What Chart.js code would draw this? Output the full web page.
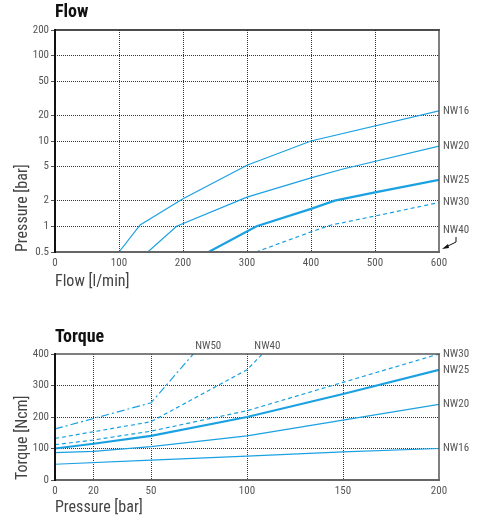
<!DOCTYPE html>
<html>
<head>
<meta charset="utf-8">
<script src="https://cdn.jsdelivr.net/npm/chart.js@4.4.1/dist/chart.umd.min.js"></script>
<style>
  body { margin: 0; background: #fff; width: 482px; height: 523px; position: relative; overflow: hidden; }
  canvas { position: absolute; left: 0; }
  .title { position: absolute; left: 55px; font-family: 'Roboto Condensed', 'Liberation Sans Narrow', Roboto, sans-serif; font-weight: bold; font-size: 18px; line-height: 18px; color: #111; z-index: 2; }
</style>
</head>
<body>
<canvas id="flowChart" width="482" height="300" style="top:0"></canvas>
<canvas id="torqueChart" width="482" height="223" style="top:300px"></canvas>
<div class="title" style="top:2px">Flow</div>
<div class="title" style="top:327px">Torque</div>
<script>
// ---- Flow data (pressure drop vs flow, log scale) ----
const flowTicksY = [0.5, 1, 2, 5, 10, 20, 50, 100, 200];
const flowX16 = [100, 133, 200, 300, 400, 600];
const flowP16 = [0.5, 1.04, 2.1, 5.2, 10, 22.5];
const flowX20 = [145, 190, 300, 400, 450, 600];
const flowP20 = [0.5, 1.0, 2.2, 3.7, 4.7, 8.7];
const flowX25 = [240, 315, 400, 437, 500, 600];
const flowP25 = [0.5, 1.0, 1.6, 2.0, 2.5, 3.5];
const flowX30 = [314, 400, 430, 500, 600];
const flowP30 = [0.5, 0.86, 1.03, 1.32, 1.9];
const flowNW40At = [600, 0.5];

// ---- Torque data (torque vs pressure) ----
const torqueTicksX = [0, 20, 50, 100, 150, 200];
const torqueX16 = [0, 50, 100, 150, 200];
const torqueT16 = [50, 63, 76, 89, 100];
const torqueX20 = [0, 20, 50, 100, 150, 200];
const torqueT20 = [87, 91, 106, 140, 190, 240];
const torqueX25 = [0, 20, 50, 100, 150, 200];
const torqueT25 = [100, 115, 140, 200, 273, 350];
const torqueX30 = [0, 20, 50, 100, 150, 200];
const torqueT30 = [112, 127, 155, 220, 310, 400];
const torqueX40 = [0, 50, 100, 108];
const torqueT40 = [132, 185, 350, 400];
const torqueX50 = [0, 50, 72];
const torqueT50 = [162, 245, 400];

const BLUE = '#1ba1e2';
const FONT = "'Roboto Condensed', 'Liberation Sans Narrow', Roboto, sans-serif";
const pairs = (xs, ys) => xs.map((x, i) => ({x: x, y: ys[i]}));

function line(label, xs, ys, width, dash, extra) {
    return Object.assign({
        label: label,
        data: pairs(xs, ys),
        borderColor: BLUE,
        borderWidth: width,
        borderDash: dash,
        pointRadius: 0,
        tension: 0,
        fill: false
    }, extra || {});
}

// grid lines hidden on the plot edges, the frame is drawn separately
const innerGrid = ctx => {
    const n = ctx.scale.ticks.length;
    return (ctx.index === 0 || ctx.index === n - 1) ? 'rgba(0,0,0,0)' : '#333';
};

const framePlugin = {
    id: 'frame',
    afterDatasetsDraw(chart, args, opts) {
        const {ctx, chartArea: a} = chart;
        ctx.save();
        const seg = (x1, y1, x2, y2, color, w) => {
            ctx.strokeStyle = color;
            ctx.lineWidth = w;
            ctx.beginPath();
            ctx.moveTo(x1, y1);
            ctx.lineTo(x2, y2);
            ctx.stroke();
        };
        seg(a.left - 1, a.top, a.right + 1, a.top, opts.top, 1.5);
        seg(a.right, a.top, a.right, a.bottom, '#555', 1.5);
        seg(a.left - 1, a.bottom, a.right + 1, a.bottom, '#666', 2);
        seg(a.left, a.top - 1, a.left, a.bottom + 1, '#111', 2);
        ctx.restore();
    }
};

const labelPlugin = {
    id: 'curveLabels',
    afterDraw(chart, args, opts) {
        const {ctx, chartArea} = chart;
        ctx.save();
        ctx.font = '11px ' + FONT;
        ctx.fillStyle = '#555';
        ctx.textBaseline = 'middle';
        ctx.textAlign = 'left';
        chart.data.datasets.forEach((ds, i) => {
            const pts = chart.getDatasetMeta(i).data;
            const last = pts[pts.length - 1];
            if (ds.labelTop) {
                ctx.fillText(ds.label, last.x + ds.labelDx, chartArea.top - 8);
            } else {
                ctx.fillText(ds.label, chartArea.right + 4, last.y);
            }
        });
        if (opts.arrowAt) {
            const px = chart.scales.x.getPixelForValue(opts.arrowAt[0]);
            const py = chart.scales.y.getPixelForValue(opts.arrowAt[1]);
            ctx.fillText(opts.arrowLabel, px + 4, py - 22);
            ctx.strokeStyle = '#111';
            ctx.fillStyle = '#111';
            ctx.lineWidth = 1;
            ctx.beginPath();
            ctx.moveTo(px + 17, py - 15);
            ctx.lineTo(px + 17, py - 10);
            ctx.lineTo(px + 7, py - 5);
            ctx.stroke();
            ctx.beginPath();
            ctx.moveTo(px + 3, py - 3);
            ctx.lineTo(px + 9, py - 8);
            ctx.lineTo(px + 10, py - 4);
            ctx.closePath();
            ctx.fill();
        }
        ctx.restore();
    }
};

const tickFont = {family: FONT, size: 11};
const titleFont = {family: FONT, size: 16};

// Flow chart (log y axis)
new Chart(document.getElementById('flowChart').getContext('2d'), {
    type: 'line',
    data: {
        datasets: [
            line('NW16', flowX16, flowP16, 1.2, []),
            line('NW20', flowX20, flowP20, 1.2, []),
            line('NW25', flowX25, flowP25, 2.2, []),
            line('NW30', flowX30, flowP30, 1.2, [4, 3])
        ]
    },
    options: {
        responsive: false,
        animation: false,
        devicePixelRatio: 1,
        layout: {padding: {left: 13, top: 30, right: 43, bottom: 8}},
        plugins: {
            legend: {display: false},
            tooltip: {enabled: false},
            frame: {top: '#111'},
            curveLabels: {arrowAt: flowNW40At, arrowLabel: 'NW40'}
        },
        scales: {
            x: {
                type: 'linear',
                min: 0,
                max: 600,
                ticks: {stepSize: 100, color: '#555', font: tickFont, padding: 5},
                grid: {color: innerGrid, drawTicks: false},
                border: {display: false, dash: [1, 1]},
                title: {display: true, text: 'Flow [l/min]', align: 'start', color: '#444', font: titleFont, padding: 0},
                afterFit: s => { s.height = 40; }
            },
            y: {
                type: 'logarithmic',
                min: 0.5,
                max: 200,
                afterBuildTicks: s => { s.ticks = flowTicksY.map(v => ({value: v})); },
                ticks: {color: '#555', font: tickFont, padding: 2, callback: v => String(v)},
                grid: {color: innerGrid, tickColor: '#555', tickLength: 4},
                border: {display: false, dash: [1, 1]},
                title: {display: true, text: 'Pressure [bar]', align: 'start', color: '#444', font: titleFont, padding: 0},
                afterFit: s => { s.width = 42; }
            }
        }
    },
    plugins: [framePlugin, labelPlugin]
});

// Torque chart
new Chart(document.getElementById('torqueChart').getContext('2d'), {
    type: 'line',
    data: {
        datasets: [
            line('NW16', torqueX16, torqueT16, 1.2, []),
            line('NW20', torqueX20, torqueT20, 1.2, []),
            line('NW25', torqueX25, torqueT25, 2.2, []),
            line('NW30', torqueX30, torqueT30, 1.2, [4, 3]),
            line('NW40', torqueX40, torqueT40, 1.2, [4, 3], {labelTop: true, labelDx: -8}),
            line('NW50', torqueX50, torqueT50, 1.2, [8, 3, 2, 3], {labelTop: true, labelDx: 2})
        ]
    },
    options: {
        responsive: false,
        animation: false,
        devicePixelRatio: 1,
        layout: {padding: {left: 13, top: 54, right: 43, bottom: 5}},
        plugins: {
            legend: {display: false},
            tooltip: {enabled: false},
            frame: {top: '#555'},
            curveLabels: {}
        },
        scales: {
            x: {
                type: 'linear',
                min: 0,
                max: 200,
                afterBuildTicks: s => { s.ticks = torqueTicksX.map(v => ({value: v})); },
                ticks: {color: '#555', font: tickFont, padding: 5},
                grid: {color: innerGrid, drawTicks: false},
                border: {display: false, dash: [1, 1]},
                title: {display: true, text: 'Pressure [bar]', align: 'start', color: '#444', font: titleFont, padding: 0},
                afterFit: s => { s.height = 38; }
            },
            y: {
                type: 'linear',
                min: 0,
                max: 400,
                ticks: {stepSize: 100, color: '#555', font: tickFont, padding: 2},
                grid: {color: innerGrid, tickColor: '#555', tickLength: 4},
                border: {display: false, dash: [1, 1]},
                title: {display: true, text: 'Torque [Ncm]', align: 'start', color: '#444', font: titleFont, padding: 0},
                afterFit: s => { s.width = 42; }
            }
        }
    },
    plugins: [framePlugin, labelPlugin]
});
</script>
</body>
</html>
